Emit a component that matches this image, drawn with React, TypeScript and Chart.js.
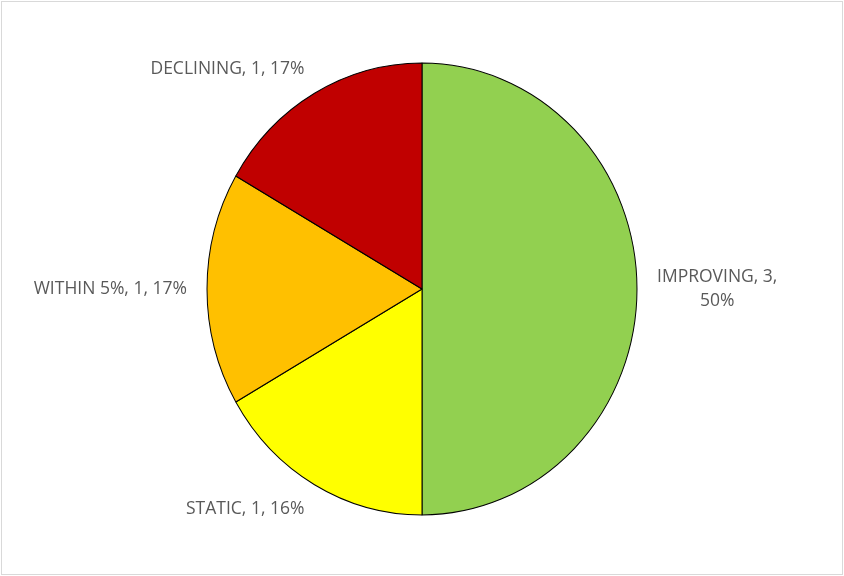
import React, { useEffect, useRef } from "react";
import { Chart, registerables } from "chart.js";

Chart.register(...registerables);

const categories = ["IMPROVING", "STATIC", "WITHIN 5%", "DECLINING"];
const values = [3, 1, 1, 1];
const percentLabels = ["50%", "16%", "17%", "17%"];
const colors = ["#92D050", "#FFFF00", "#FFC000", "#C00000"];

const Y_STRETCH = 1.051;
const LABEL_FONT = '17.5px "Open Sans", Lato, sans-serif';

const frameAndStretch = {
  id: "frameAndStretch",
  beforeDraw(chart: any) {
    const ctx = chart.ctx;
    ctx.save();
    ctx.fillStyle = "#ffffff";
    ctx.fillRect(0, 0, chart.width, chart.height);
    ctx.strokeStyle = "#d9d9d9";
    ctx.lineWidth = 1;
    ctx.strokeRect(1.5, 1.5, chart.width - 3, chart.height - 3);
    ctx.restore();
  },
  beforeDatasetsDraw(chart: any) {
    const a = chart.chartArea;
    const cx = (a.left + a.right) / 2;
    const cy = (a.top + a.bottom) / 2;
    const ctx = chart.ctx;
    ctx.save();
    ctx.translate(cx, cy);
    ctx.scale(1, Y_STRETCH);
    ctx.translate(-cx, -cy);
  },
  afterDatasetsDraw(chart: any) {
    const ctx = chart.ctx;
    ctx.restore();
    const meta = chart.getDatasetMeta(0);
    const padX = 20;
    const padY = 28;
    const lineH = 24;
    ctx.save();
    ctx.font = LABEL_FONT;
    ctx.fillStyle = "#595959";
    ctx.textBaseline = "middle";
    ctx.textAlign = "center";
    meta.data.forEach((arc: any, i: number) => {
      const mid = (arc.startAngle + arc.endAngle) / 2;
      const dx = Math.cos(mid);
      const dy = Math.sin(mid);
      const px = arc.x + dx * (arc.outerRadius + padX);
      const py = arc.y + dy * (arc.outerRadius * Y_STRETCH + padY);
      const full = `${categories[i]}, ${values[i]}, ${percentLabels[i]}`;
      const lines = i === 0 ? [`${categories[i]}, ${values[i]},`, percentLabels[i]] : [full];
      const w = Math.max(...lines.map((l) => ctx.measureText(l).width));
      let cxText = px;
      if (dx < -0.3) cxText = px - w / 2;
      else if (dx > 0.3) cxText = px + w / 2;
      const h = lines.length * lineH;
      const top = py - h / 2;
      lines.forEach((l, k) => {
        ctx.fillText(l, cxText, top + lineH * k + lineH / 2);
      });
    });
    ctx.restore();
  },
};

export default function App() {
  const ref = useRef<HTMLCanvasElement | null>(null);
  useEffect(() => {
    if (!ref.current) return;
    const chart = new Chart(ref.current, {
      type: "pie",
      data: {
        labels: categories,
        datasets: [
          {
            data: values,
            backgroundColor: colors,
            borderColor: "#000000",
            borderWidth: 1,
          },
        ],
      },
      options: {
        responsive: false,
        animation: false,
        radius: 215,
        layout: { padding: { top: 74, bottom: 72, left: 0, right: 0 } },
        plugins: {
          legend: { display: false },
          tooltip: { enabled: false },
        },
      } as any,
      plugins: [frameAndStretch],
    });
    return () => chart.destroy();
  }, []);
  return (
    <div style={{ position: "fixed", left: 0, top: 0, width: 844, height: 576, background: "#fff" }}>
      <canvas ref={ref} width={844} height={576} style={{ display: "block" }} />
    </div>
  );
}
